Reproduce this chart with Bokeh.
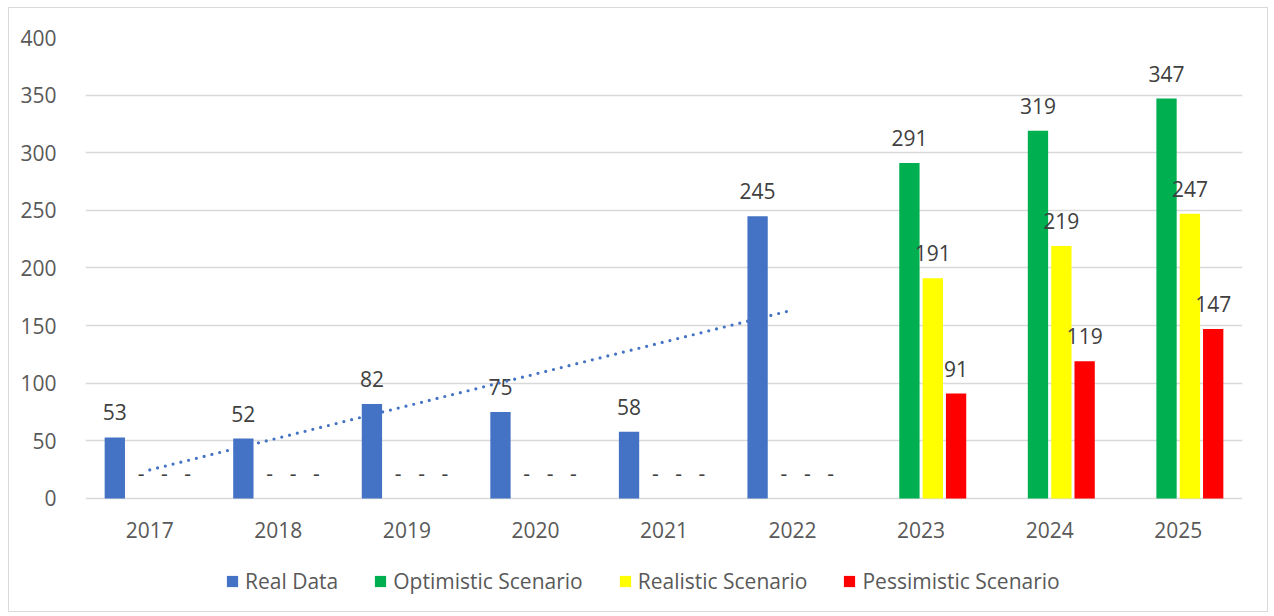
import numpy as np
from bokeh.plotting import figure
from bokeh.models import ColumnDataSource, FactorRange, Legend, LegendItem
from bokeh.transform import dodge
from bokeh.core.properties import value
from bokeh.embed import file_html
from bokeh.resources import INLINE

years = ["2017", "2018", "2019", "2020", "2021", "2022", "2023", "2024", "2025"]
real_data = [53, 52, 82, 75, 58, 245, None, None, None]
optimistic = [0, 0, 0, 0, 0, 0, 291, 319, 347]
realistic = [0, 0, 0, 0, 0, 0, 191, 219, 247]
pessimistic = [0, 0, 0, 0, 0, 0, 91, 119, 147]
y_ticks = [0, 50, 100, 150, 200, 250, 300, 350, 400]

series = [
    ("Real Data", real_data, "#4472C4", -0.272),
    ("Optimistic Scenario", optimistic, "#00B050", -0.091),
    ("Realistic Scenario", realistic, "#FFFF00", 0.091),
    ("Pessimistic Scenario", pessimistic, "#FF0000", 0.272),
]

FONT = "Open Sans"

# frame spans down to the chart's bottom edge so the legend can sit inside it;
# value 0 stays at the category axis, 400 at the top
p = figure(
    x_range=FactorRange(*years, range_padding=0),
    y_range=(-99.8, 400),
    width=1260, height=605,
    output_backend="svg", toolbar_location=None,
    min_border_left=76, min_border_right=27, min_border_top=29, min_border_bottom=0,
    margin=(7, 0, 0, 8),
    styles={"border": "1px solid #D9D9D9"},
)
p.outline_line_color = None
p.background_fill_color = "white"
p.border_fill_color = "white"

# grid (gridline at 0 acts as the category axis line)
p.xgrid.grid_line_color = None
p.ygrid.grid_line_color = "#D9D9D9"
p.ygrid.grid_line_width = 1.3
p.yaxis.ticker = y_ticks

p.yaxis.axis_line_color = None
p.yaxis.major_tick_line_color = None
p.yaxis.minor_tick_line_color = None
p.yaxis.major_label_standoff = 23
p.yaxis.major_label_text_font = FONT
p.yaxis.major_label_text_font_size = "21px"
p.yaxis.major_label_text_color = "#595959"

p.xaxis.visible = False

# category labels
cat_src = ColumnDataSource(dict(x=years, y=[0] * len(years), label=years))
p.text(x="x", y="y", text="label", source=cat_src, text_align="center",
       text_baseline="middle", y_offset=31.5, text_font=value(FONT),
       text_font_size="21px", text_color="#595959")

items = []
for name, vals, color, off in series:
    xs, ys, labels, xo = [], [], [], []
    for yr, v in zip(years, vals):
        if v is None:
            continue
        xs.append(yr)
        ys.append(v)
        labels.append("-" if v == 0 else str(v))
        xo.append(3 if v == 0 else 0)
    src = ColumnDataSource(dict(x=xs, y=ys, label=labels, xo=xo))
    r = p.vbar(x=dodge("x", off, range=p.x_range), top="y", width=0.158, source=src,
               fill_color=color, line_color=None)
    p.text(x=dodge("x", off, range=p.x_range), y="y", text="label", source=src,
           text_align="center", text_baseline="middle", y_offset=-25, x_offset="xo",
           text_font=value(FONT), text_font_size="21px", text_color="#404040")
    items.append(LegendItem(label=name, renderers=[r]))

# linear trendline on real data (2017-2022)
real_years = [yr for yr, v in zip(years, real_data) if v is not None]
real_vals = [v for v in real_data if v is not None]
idx = np.arange(1, len(real_vals) + 1)
slope, intercept = np.polyfit(idx, real_vals, 1)
p.line(x=[real_years[0], real_years[-1]],
       y=[intercept + slope * idx[0], intercept + slope * idx[-1]],
       line_color="#4472C4", line_width=3.2, line_dash="0 8", line_cap="round")

legend = Legend(items=items, orientation="horizontal", location=(140, 18),
                glyph_width=14, glyph_height=14, label_standoff=6, spacing=35,
                label_height=21,
                label_text_font=FONT, label_text_font_size="21px",
                label_text_color="#595959", border_line_color=None,
                background_fill_alpha=0, padding=0, margin=0)
p.add_layout(legend, "center")

open("out.html", "w").write(file_html(p, INLINE))
